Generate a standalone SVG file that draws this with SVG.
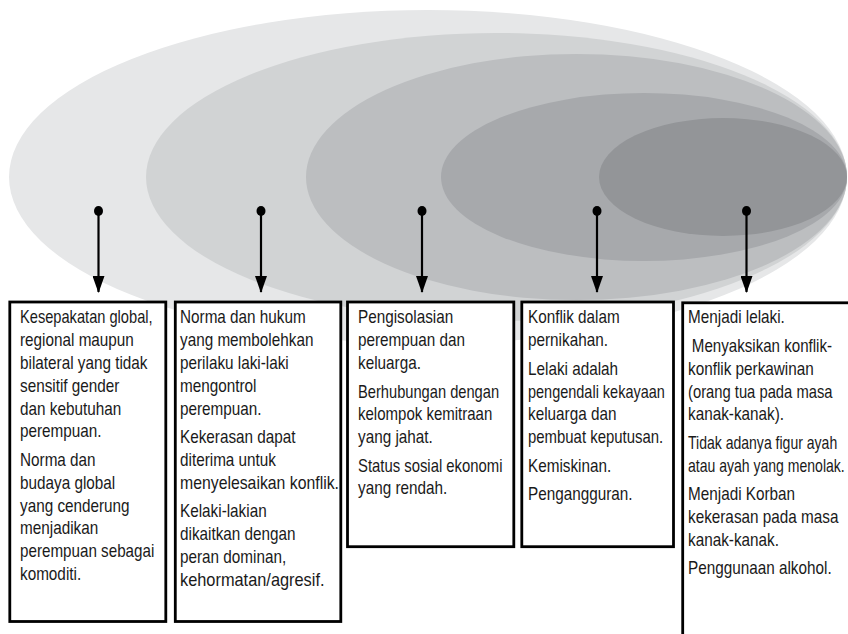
<svg xmlns="http://www.w3.org/2000/svg" width="848" height="634" viewBox="0 0 848 634">
<style>
.box{fill:#ffffff;stroke:#000000;stroke-width:2.8}
.t{font-family:"Liberation Sans",Arial,sans-serif;font-size:18px;fill:#1a1a1a}
.ln{stroke:#000000;stroke-width:2.2}
</style>
<defs>
<marker id="head" viewBox="0 0 17 12" refX="16" refY="6" markerWidth="17" markerHeight="12" markerUnits="userSpaceOnUse" orient="auto">
<path d="M0,0 L17,6 L0,12 Z" fill="#000000"/>
</marker>
</defs>
<rect x="0" y="0" width="848" height="634" fill="#ffffff"/>
<g id="ellipses">
<ellipse id="ring1" cx="428" cy="177" rx="419" ry="167" fill="#e6e7e8"/>
<ellipse id="ring2" cx="496.5" cy="177" rx="350.5" ry="144" fill="#d1d3d4"/>
<ellipse id="ring3" cx="576.5" cy="177" rx="270.5" ry="123" fill="#bcbec0"/>
<ellipse id="ring4" cx="644" cy="177" rx="203" ry="84" fill="#a7a9ac"/>
<ellipse id="ring5" cx="723" cy="177" rx="124" ry="59" fill="#939598"/>
</g>
<g id="connectors">
<ellipse cx="98.5" cy="211" rx="4.5" ry="5"/>
<ellipse cx="261" cy="211" rx="4.5" ry="5"/>
<ellipse cx="422" cy="211" rx="4.5" ry="5"/>
<ellipse cx="597" cy="211" rx="4.5" ry="5"/>
<ellipse cx="746.5" cy="211" rx="4.5" ry="5"/>
<line class="ln" x1="98.5" y1="211" x2="98.5" y2="292" marker-end="url(#head)"/>
<line class="ln" x1="261" y1="211" x2="261" y2="292" marker-end="url(#head)"/>
<line class="ln" x1="422" y1="211" x2="422" y2="292" marker-end="url(#head)"/>
<line class="ln" x1="597" y1="211" x2="597" y2="292" marker-end="url(#head)"/>
<line class="ln" x1="746.5" y1="211" x2="746.5" y2="292" marker-end="url(#head)"/>
</g>
<g id="box1">
<rect class="box" x="9.8" y="302" width="156" height="319.5"/>
<g transform="translate(20 0) scale(0.85 1)">
<text x="0" y="323.5" class="t" textLength="156" lengthAdjust="spacingAndGlyphs">Kesepakatan global,</text>
<text x="0" y="346.3" class="t">regional maupun</text>
<text x="0" y="369.1" class="t">bilateral yang tidak</text>
<text x="0" y="391.9" class="t">sensitif gender</text>
<text x="0" y="414.7" class="t">dan kebutuhan</text>
<text x="0" y="437.5" class="t">perempuan.</text>
<text x="0" y="466" class="t">Norma dan</text>
<text x="0" y="488.8" class="t">budaya global</text>
<text x="0" y="511.6" class="t">yang cenderung</text>
<text x="0" y="534.4" class="t">menjadikan</text>
<text x="0" y="557.2" class="t" textLength="158" lengthAdjust="spacingAndGlyphs">perempuan sebagai</text>
<text x="0" y="580" class="t">komoditi.</text>
</g>
</g>
<g id="box2">
<rect class="box" x="175.3" y="302" width="165.5" height="319.5"/>
<g transform="translate(180 0) scale(0.85 1)">
<text x="0" y="323.5" class="t">Norma dan hukum</text>
<text x="0" y="346.3" class="t">yang membolehkan</text>
<text x="0" y="369.1" class="t">perilaku laki-laki</text>
<text x="0" y="391.9" class="t">mengontrol</text>
<text x="0" y="414.7" class="t">perempuan.</text>
<text x="0" y="443.2" class="t">Kekerasan dapat</text>
<text x="0" y="466" class="t">diterima untuk</text>
<text x="0" y="488.8" class="t" textLength="187" lengthAdjust="spacingAndGlyphs">menyelesaikan konflik.</text>
<text x="0" y="517.3" class="t">Kelaki-lakian</text>
<text x="0" y="540.1" class="t">dikaitkan dengan</text>
<text x="0" y="562.9" class="t">peran dominan,</text>
<text x="0" y="585.7" class="t" textLength="170" lengthAdjust="spacingAndGlyphs">kehormatan/agresif.</text>
</g>
</g>
<g id="box3">
<rect class="box" x="347.5" y="302" width="166.3" height="244.7"/>
<g transform="translate(358 0) scale(0.85 1)">
<text x="0" y="323.5" class="t">Pengisolasian</text>
<text x="0" y="346.3" class="t">perempuan dan</text>
<text x="0" y="369.1" class="t">keluarga.</text>
<text x="0" y="397.6" class="t" textLength="166" lengthAdjust="spacingAndGlyphs">Berhubungan dengan</text>
<text x="0" y="420.4" class="t" textLength="158" lengthAdjust="spacingAndGlyphs">kelompok kemitraan</text>
<text x="0" y="443.2" class="t">yang jahat.</text>
<text x="0" y="471.7" class="t" textLength="170" lengthAdjust="spacingAndGlyphs">Status sosial ekonomi</text>
<text x="0" y="494.5" class="t">yang rendah.</text>
</g>
</g>
<g id="box4">
<rect class="box" x="521.8" y="302" width="151.7" height="244.7"/>
<g transform="translate(528 0) scale(0.85 1)">
<text x="0" y="323.5" class="t">Konflik dalam</text>
<text x="0" y="346.3" class="t">pernikahan.</text>
<text x="0" y="374.8" class="t">Lelaki adalah</text>
<text x="0" y="397.6" class="t" textLength="161" lengthAdjust="spacingAndGlyphs">pengendali kekayaan</text>
<text x="0" y="420.4" class="t">keluarga dan</text>
<text x="0" y="443.2" class="t" textLength="159" lengthAdjust="spacingAndGlyphs">pembuat keputusan.</text>
<text x="0" y="471.7" class="t">Kemiskinan.</text>
<text x="0" y="500.2" class="t">Pengangguran.</text>
</g>
</g>
<g id="box5">
<rect class="box" x="682.7" y="302.8" width="220" height="400"/>
<g transform="translate(688 0) scale(0.85 1)">
<text x="0" y="323.5" class="t">Menjadi lelaki.</text>
<text x="4.5" y="352" class="t" textLength="165" lengthAdjust="spacingAndGlyphs">Menyaksikan konflik-</text>
<text x="0" y="374.8" class="t">konflik perkawinan</text>
<text x="0" y="397.6" class="t" textLength="170" lengthAdjust="spacingAndGlyphs">(orang tua pada masa</text>
<text x="0" y="420.4" class="t">kanak-kanak).</text>
<text x="0" y="500.2" class="t">Menjadi Korban</text>
<text x="0" y="523" class="t">kekerasan pada masa</text>
<text x="0" y="545.8" class="t">kanak-kanak.</text>
<text x="0" y="574.3" class="t">Penggunaan alkohol.</text>
</g>
<g transform="translate(688 0) scale(0.78 1)">
<text x="0" y="448.9" class="t">Tidak adanya figur ayah</text>
<text x="0" y="471.7" class="t">atau ayah yang menolak.</text>
</g>
</g>
</svg>
